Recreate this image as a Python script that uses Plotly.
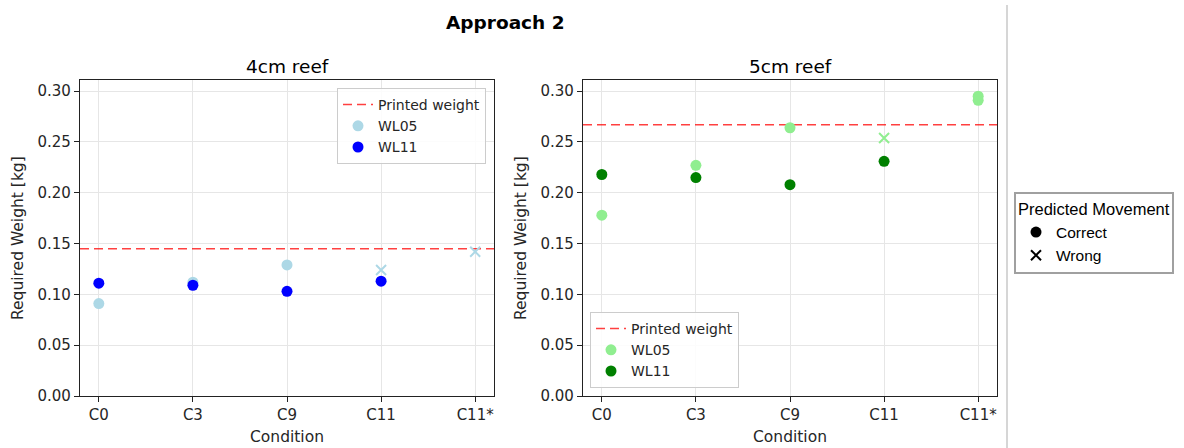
import plotly.graph_objects as go

# ---- data -------------------------------------------------------------
conditions = ["C0", "C3", "C9", "C11", "C11*"]

# 4cm reef
wl05_4cm_cond = ["C0", "C3", "C9", "C11", "C11*"]
wl05_4cm_val = [0.091, 0.112, 0.129, 0.124, 0.142]
wl05_4cm_ok = [True, True, True, False, False]
wl11_4cm_cond = ["C0", "C3", "C9", "C11"]
wl11_4cm_val = [0.111, 0.109, 0.103, 0.113]
wl11_4cm_ok = [True, True, True, True]
printed_4cm = 0.145

# 5cm reef
wl05_5cm_cond = ["C0", "C3", "C9", "C11", "C11*", "C11*"]
wl05_5cm_val = [0.178, 0.227, 0.264, 0.254, 0.295, 0.291]
wl05_5cm_ok = [True, True, True, False, True, True]
wl11_5cm_cond = ["C0", "C3", "C9", "C11"]
wl11_5cm_val = [0.218, 0.215, 0.208, 0.231]
wl11_5cm_ok = [True, True, True, True]
printed_5cm = 0.267

y_ticks = [0.00, 0.05, 0.10, 0.15, 0.20, 0.25, 0.30]

# ---- styling ----------------------------------------------------------
FONT = "DejaVu Sans"
W, H = 1184, 448
X_RANGE = [-0.2, 4.2]
Y_RANGE = [0, 0.311]
TEXT = "#262626"


def px_x(p):
    return p / W


def px_y(p):
    return 1 - p / H


panels = [
    dict(xa="x", ya="y", left=80, right=494, legend="legend",
         series=[("WL05", "#add8e6", wl05_4cm_cond, wl05_4cm_val, wl05_4cm_ok),
                 ("WL11", "#0000ff", wl11_4cm_cond, wl11_4cm_val, wl11_4cm_ok)],
         printed=printed_4cm, title="4cm reef"),
    dict(xa="x2", ya="y2", left=583, right=997, legend="legend2",
         series=[("WL05", "#90ee90", wl05_5cm_cond, wl05_5cm_val, wl05_5cm_ok),
                 ("WL11", "#008000", wl11_5cm_cond, wl11_5cm_val, wl11_5cm_ok)],
         printed=printed_5cm, title="5cm reef"),
]

fig = go.Figure()
idx = {c: i for i, c in enumerate(conditions)}

for p in panels:
    # printed weight reference line across the full axis width
    fig.add_trace(go.Scatter(
        x=X_RANGE, y=[p["printed"]] * 2, mode="lines", name="Printed weight",
        line=dict(color="rgba(255,0,0,0.75)", width=1.5, dash="9px,5px"),
        xaxis=p["xa"], yaxis=p["ya"], legend=p["legend"], hoverinfo="skip"))
    for name, color, cond, vals, ok in p["series"]:
        xs_ok = [idx[c] for c, o in zip(cond, ok) if o]
        ys_ok = [v for v, o in zip(vals, ok) if o]
        xs_bad = [idx[c] for c, o in zip(cond, ok) if not o]
        ys_bad = [v for v, o in zip(vals, ok) if not o]
        fig.add_trace(go.Scatter(
            x=xs_ok, y=ys_ok, mode="markers", name=name,
            marker=dict(symbol="circle", size=11, color=color, line=dict(width=0)),
            xaxis=p["xa"], yaxis=p["ya"], legend=p["legend"]))
        if xs_bad:
            fig.add_trace(go.Scatter(
                x=xs_bad, y=ys_bad, mode="markers", name=name, showlegend=False,
                marker=dict(symbol="x-thin", size=10, color=color,
                            line=dict(width=2, color=color)),
                xaxis=p["xa"], yaxis=p["ya"]))

# shape legend for predicted movement
fig.add_trace(go.Scatter(x=[None], y=[None], mode="markers", name="Correct",
                         marker=dict(symbol="circle", size=11, color="black"),
                         legend="legend3"))
fig.add_trace(go.Scatter(x=[None], y=[None], mode="markers", name="Wrong",
                         marker=dict(symbol="x-thin", size=10, color="black",
                                     line=dict(width=2, color="black")),
                         legend="legend3"))

axis_common = dict(
    showline=True, mirror=True, linecolor="#222", linewidth=1.3,
    ticks="outside", ticklen=5, tickwidth=1.2, tickcolor="#222",
    showgrid=True, gridcolor="#e6e6e6", gridwidth=1,
    zeroline=False, tickfont=dict(family=FONT, size=15, color=TEXT),
    automargin=False,
)

layout = dict(
    width=W, height=H, margin=dict(l=0, r=0, t=0, b=0),
    paper_bgcolor="white", plot_bgcolor="white",
    font=dict(family=FONT, color=TEXT),
    annotations=[], shapes=[],
)

for i, p in enumerate(panels):
    sfx = "" if i == 0 else str(i + 1)
    layout["xaxis" + sfx] = dict(
        axis_common, domain=[px_x(p["left"]), px_x(p["right"])],
        range=X_RANGE, tickmode="array", tickvals=list(range(len(conditions))),
        ticktext=conditions, anchor="y" + sfx)
    layout["yaxis" + sfx] = dict(
        axis_common, domain=[px_y(396), px_y(80)], range=Y_RANGE,
        tickmode="array", tickvals=y_ticks,
        ticktext=[f"{v:.2f}" for v in y_ticks], anchor="x" + sfx)
    cx = (p["left"] + p["right"]) / 2
    layout["annotations"] += [
        dict(text=p["title"], x=px_x(cx), y=px_y(67), xref="paper", yref="paper",
             showarrow=False, xanchor="center", yanchor="middle",
             font=dict(family=FONT, size=18.5, color="black")),
        dict(text="Condition", x=px_x(cx), y=px_y(437), xref="paper", yref="paper",
             showarrow=False, xanchor="center", yanchor="middle",
             font=dict(family=FONT, size=15.5, color=TEXT)),
        dict(text="Required Weight [kg]", x=px_x(p["left"] - 62), y=px_y(238),
             xref="paper", yref="paper", showarrow=False, textangle=-90,
             xanchor="center", yanchor="middle",
             font=dict(family=FONT, size=15.5, color=TEXT)),
    ]

layout["annotations"].append(
    dict(text="<b>Approach 2</b>", x=px_x(505), y=px_y(22), xref="paper", yref="paper",
         showarrow=False, xanchor="center", yanchor="middle",
         font=dict(family=FONT, size=18.5, color="black")))

# thin separator on the right side
layout["shapes"].append(
    dict(type="line", xref="paper", yref="paper", x0=px_x(1007), x1=px_x(1007),
         y0=0, y1=px_y(5), line=dict(color="#c8c8c8", width=1.5)))

legend_common = dict(
    bgcolor="rgba(255,255,255,0.85)", bordercolor="#cccccc", borderwidth=1,
    font=dict(family=FONT, size=14, color=TEXT), itemsizing="trace",
    tracegroupgap=0, itemwidth=30,
)
layout["legend"] = dict(legend_common, x=px_x(486), y=px_y(88),
                        xanchor="right", yanchor="top")
layout["legend2"] = dict(legend_common, x=px_x(590), y=px_y(388),
                         xanchor="left", yanchor="bottom")
layout["legend3"] = dict(
    x=px_x(1014), y=px_y(192), xanchor="left", yanchor="top",
    bgcolor="white", bordercolor="#a0a0a0", borderwidth=2,
    title=dict(text="Predicted Movement",
               font=dict(family="Liberation Sans", size=16.5, color="black"),
               side="top"),
    font=dict(family="Liberation Sans", size=15.5, color="black"),
    itemsizing="trace", itemwidth=30,
)

fig.update_layout(**layout)
fig.write_html("out.html")
